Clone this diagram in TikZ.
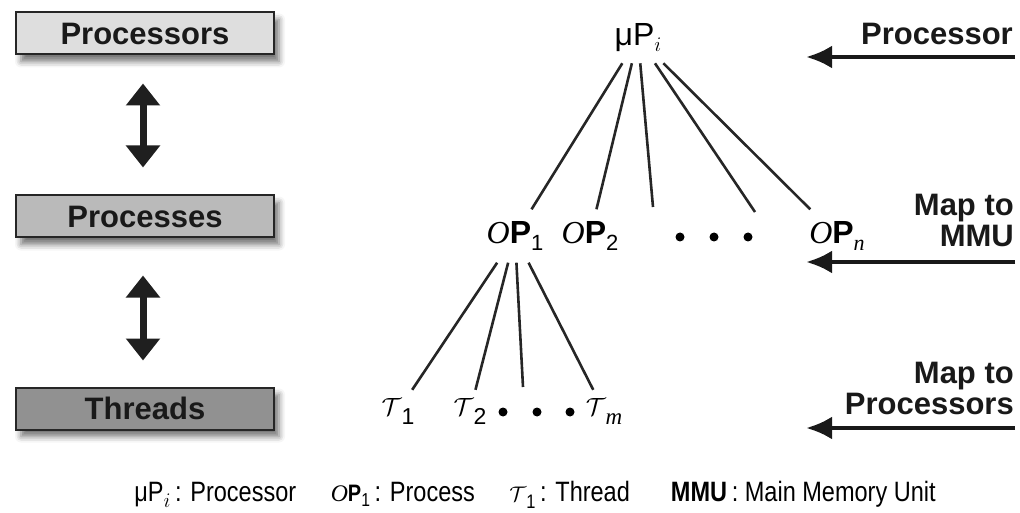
\documentclass[tikz,border=0pt]{standalone}
\usepackage{fontspec}
\setmainfont{Liberation Sans}
\newfontfamily\timesfont{Liberation Serif}
\newfontfamily\legendfont[FakeStretch=0.84]{Liberation Sans}
\usetikzlibrary{arrows.meta,shadows.blur,positioning}

\newcommand{\procname}[1]{{\timesfont\itshape O}\textbf{P}\raisebox{-7pt}{\fontsize{22}{22}\selectfont #1}}
\newcommand{\thrname}[1]{$\mathcal{T}$\raisebox{-9pt}{\fontsize{23}{23}\selectfont #1}}
\newcommand{\cpuname}[1]{μP\raisebox{-6pt}{\fontsize{22}{22}\selectfont$#1$}}

\tikzset{levelbox/.style={draw=black!85, line width=2pt, minimum width=258pt,
    minimum height=42pt, inner sep=0pt, text=black!90,
    font=\bfseries\fontsize{31}{31}\selectfont,
    blur shadow={shadow xshift=5pt, shadow yshift=-7pt,
      shadow blur radius=6pt, shadow opacity=55}}}
\tikzset{dblarrow/.style={line width=7pt, black!88,
    {Triangle[width=33pt,length=22pt]}-{Triangle[width=33pt,length=22pt]}}}
\tikzset{maparrow/.style={line width=4.5pt, black!90,
    -{Latex[width=23pt,length=26pt]}}}
\tikzset{lbl/.style={inner xsep=6pt, inner ysep=12pt,
    font=\fontsize{32}{32}\selectfont}}
\tikzset{maplbl/.style={inner sep=0pt, align=right, text=black!90,
    font=\bfseries\fontsize{31}{31}\selectfont}}
\tikzset{tline/.style={line width=2.6pt, black!85}}

\begin{document}
\begin{tikzpicture}[x=1pt, y=-1pt]
    \useasboundingbox (0,0) rectangle (1020,513);

    % levels on the left
    \node[levelbox, fill=black!13] (procs) at (145,33.5) {Processors};
    \node[levelbox, fill=black!27] (proces) at (145,216.5) {Processes};
    \node[levelbox, fill=black!43] (threads) at (145,408.5) {Threads};

    \draw[dblarrow, shorten <=28pt, shorten >=27pt] ([xshift=-2pt]procs.south) -- ([xshift=-2pt]proces.north);
    \draw[dblarrow, shorten <=37pt, shorten >=26pt] ([xshift=-2pt]proces.south) -- ([xshift=-2pt]threads.north);

    % tree
    \node[lbl, inner ysep=11pt] (mup) at (638,38) {\cpuname{i}};
    \node[lbl] (op1) at (515,236) {\procname{1}};
    \node[lbl] (op2) at (590,236) {\procname{2}};
    \node[lbl] (opn) at (837,236) {\procname{{\timesfont\itshape n}}};
    \foreach \x in {680,714,748}
    \fill (\x,237) circle (4.5pt);
    \coordinate (pgapa) at (653,207);
    \coordinate (pgapb) at (755,212);

    \node[lbl, inner ysep=8pt] (t1) at (398,411) {\thrname{1}};
    \node[lbl, inner ysep=8pt] (t2) at (470,411) {\thrname{2}};
    \node[lbl, inner ysep=8pt] (tm) at (604,411) {\thrname{{\timesfont\itshape m}}};
    \foreach \x in {503,537,570}
    \fill (\x,412) circle (4.5pt);
    \coordinate (tgap) at (523,387);

    \foreach \a in {op1,op2,pgapa,pgapb,opn}
    \draw[tline] (mup) -- (\a);
    \foreach \a in {t1,t2,tgap,tm}
    \draw[tline] (op1) -- (\a);

    % mapping arrows on the right
    \node[maplbl, anchor=south east] (lcpu) at (1013,45) {Processor};
    \node[maplbl, anchor=south east] (lmmu) at (1014,247) {Map to\\MMU};
    \node[maplbl, anchor=south east] (lmap) at (1014,415) {Map to\\Processors};
    \coordinate (acpu) at (1015,57);
    \coordinate (ammu) at (1015,262);
    \coordinate (amap) at (1015,428);
    \draw[maparrow] (acpu) -- (806,57);
    \draw[maparrow] (ammu) -- (806,262);
    \draw[maparrow] (amap) -- (806,428);

    % legend
    \node[anchor=base, inner sep=0pt, font=\legendfont\fontsize{28}{28}\selectfont] (legend) at (535,501)
    {\cpuname{i}\,: Processor\quad\ \scalebox{0.85}{\procname{1}}\,: Process\quad\ \scalebox{0.85}{\thrname{1}}\,: Thread\quad\ \ \textbf{MMU}\,: Main Memory Unit};
\end{tikzpicture}
\end{document}
